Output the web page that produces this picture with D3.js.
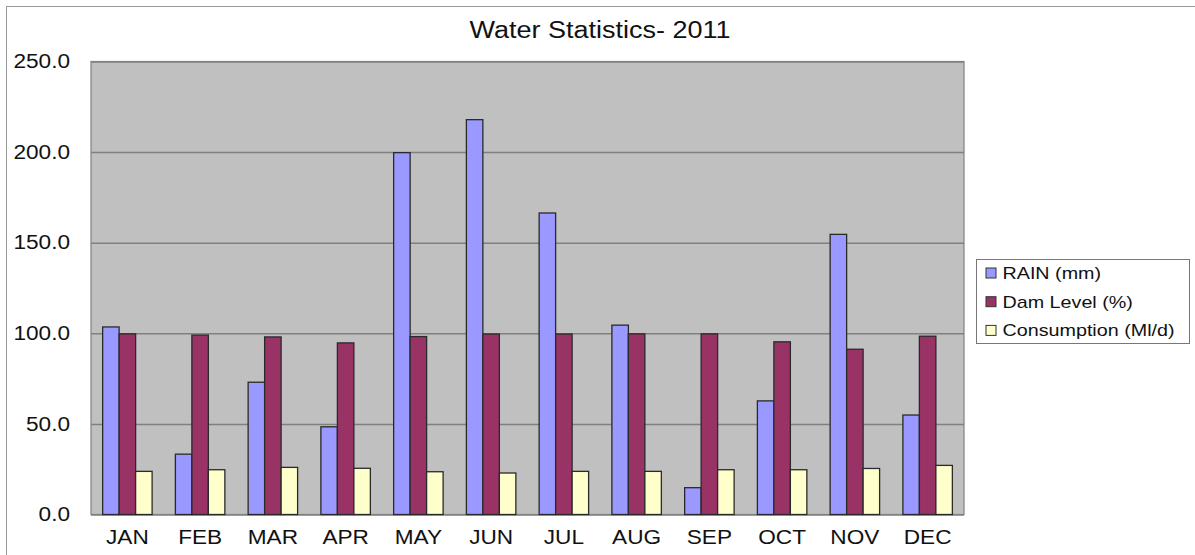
<!DOCTYPE html>
<meta charset="utf-8">
<head>
  <title>Water Statistics- 2011</title>
  <script src="https://d3js.org/d3.v7.min.js"></script>
  <style>
    body { margin: 0; background: white; }
    text { font-family: "Liberation Sans", Arial, sans-serif; fill: #111; }
    .domain { display: none; }
  </style>
</head>
<body>
  <div id="chart"></div>
  <script>
    var months = ["JAN", "FEB", "MAR", "APR", "MAY", "JUN", "JUL", "AUG", "SEP", "OCT", "NOV", "DEC"];
    var seriesNames = ["RAIN (mm)", "Dam Level (%)", "Consumption (Ml/d)"];
    var rain = [103.5, 33.3, 73.0, 48.4, 199.7, 217.9, 166.4, 104.5, 14.8, 62.7, 154.6, 54.9];
    var damLevel = [99.7, 99.0, 98.0, 94.7, 98.2, 99.6, 99.6, 99.7, 99.7, 95.3, 91.2, 98.4];
    var consumption = [23.8, 24.7, 26.0, 25.5, 23.6, 22.9, 23.8, 23.8, 24.7, 24.7, 25.4, 27.1];
    var yTicks = [0, 50, 100, 150, 200, 250];

    var colors = ["#9999FF", "#993366", "#FFFFCC"];
    var stretch = 1.16; // the reference text is a little wider than plain Arial

    var W = 1195, H = 555;
    var margin = { top: 61.5, right: 231, bottom: 40.5, left: 91 },
      width = W - margin.left - margin.right,
      height = H - margin.top - margin.bottom;

    var svg = d3.select("#chart")
      .append("svg")
      .attr("width", W)
      .attr("height", H);

    // outer chart border
    svg.append("rect")
      .attr("x", 6.5).attr("y", 6.5)
      .attr("width", W).attr("height", H)
      .attr("fill", "white")
      .attr("stroke", "#999");

    svg.append("text")
      .attr("text-anchor", "middle")
      .attr("transform", "translate(600,38) scale(" + stretch + ",1)")
      .style("font-size", "23.3px")
      .text("Water Statistics- 2011");

    var g = svg.append("g")
      .attr("transform", "translate(" + margin.left + "," + margin.top + ")");

    g.append("rect")
      .attr("width", width)
      .attr("height", height)
      .attr("fill", "#C0C0C0");

    var x0 = d3.scaleBand()
      .domain(months)
      .range([0, width])
      .paddingInner(0.32)
      .paddingOuter(0.16);

    var x1 = d3.scaleBand()
      .domain(seriesNames)
      .range([0, x0.bandwidth()]);

    var y = d3.scaleLinear()
      .domain([0, 250])
      .range([height, 0]);

    // gridlines
    g.append("g")
      .call(d3.axisLeft(y).tickValues(yTicks).tickSize(-width).tickFormat(""))
      .selectAll("line")
      .attr("stroke", "#808080")
      .attr("stroke-width", 1.5);

    // plot border
    g.append("rect")
      .attr("width", width)
      .attr("height", height)
      .attr("fill", "none")
      .attr("stroke", "#808080")
      .attr("stroke-width", 1.2);

    var data = months.map(function (m, i) {
      return { month: m, values: [rain[i], damLevel[i], consumption[i]] };
    });

    var groups = g.selectAll(".month")
      .data(data)
      .enter()
      .append("g")
      .attr("transform", function (d) { return "translate(" + x0(d.month) + ",0)"; });

    groups.selectAll("rect")
      .data(function (d) {
        return d.values.map(function (v, k) { return { name: seriesNames[k], value: v, k: k }; });
      })
      .enter()
      .append("rect")
      .attr("x", function (d) { return x1(d.name); })
      .attr("y", function (d) { return y(d.value); })
      .attr("width", x1.bandwidth())
      .attr("height", function (d) { return height - y(d.value); })
      .attr("fill", function (d) { return colors[d.k]; })
      .attr("stroke", "#2a2a2a")
      .attr("stroke-width", 1.3);

    // y axis labels
    var yAxis = g.append("g")
      .call(d3.axisLeft(y).tickValues(yTicks).tickSize(0).tickPadding(21).tickFormat(d3.format(".1f")));
    yAxis.selectAll("text")
      .style("font-size", "19.5px")
      .attr("transform", "translate(-21,0) scale(" + stretch + ",1) translate(21,0)");

    // x axis labels
    var xAxis = g.append("g")
      .attr("transform", "translate(0," + height + ")")
      .call(d3.axisBottom(x0).tickSize(0).tickPadding(16));
    xAxis.selectAll(".tick text")
      .style("font-size", "19.5px")
      .attr("transform", "scale(" + stretch + ",1)");

    // legend
    var legend = svg.append("g").attr("transform", "translate(976.5,259.5)");
    legend.append("rect")
      .attr("width", 213)
      .attr("height", 84)
      .attr("fill", "white")
      .attr("stroke", "#777");

    var items = legend.selectAll(".item")
      .data(seriesNames)
      .enter()
      .append("g")
      .attr("transform", function (d, i) { return "translate(0," + (13.5 + i * 28.7) + ")"; });

    items.append("rect")
      .attr("x", 9.5)
      .attr("y", -5)
      .attr("width", 10)
      .attr("height", 10)
      .attr("fill", function (d, i) { return colors[i]; })
      .attr("stroke", "#333");

    items.append("text")
      .attr("transform", "translate(26,6) scale(" + stretch + ",1)")
      .style("font-size", "17px")
      .text(function (d) { return d; });
  </script>
</body>
</html>
